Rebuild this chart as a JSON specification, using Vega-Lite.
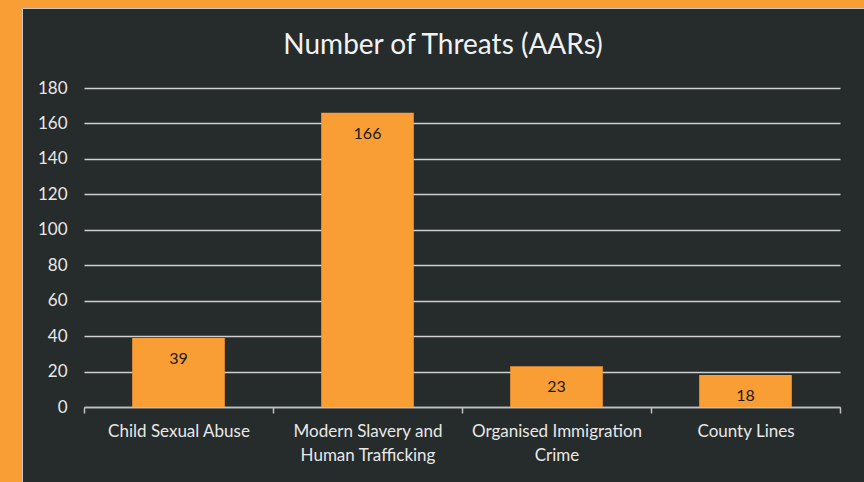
{
  "$schema": "https://vega.github.io/schema/vega-lite/v6.json",
  "width": 842,
  "height": 474,
  "autosize": {"type": "none"},
  "padding": {"left": 22, "top": 8, "right": 0, "bottom": 0},
  "background": "#f99d35",
  "title": {
    "text": "Number of Threats (AARs)",
    "color": "#f2f2f2",
    "fontSize": 28,
    "font": "Lato",
    "fontWeight": "normal",
    "offset": -52,
    "anchor": "middle",
    "frame": "group"
  },
  "config": {
    "view": {"fill": "#262b2b", "stroke": "#c8c8c8", "strokeWidth": 1}
  },
  "data": {
    "values": [
      {"threat": "Child Sexual Abuse", "count": 39},
      {"threat": "Modern Slavery and Human Trafficking", "count": 166},
      {"threat": "Organised Immigration Crime", "count": 23},
      {"threat": "County Lines", "count": 18}
    ]
  },
  "encoding": {
    "x": {
      "field": "threat",
      "type": "nominal",
      "sort": null,
      "scale": {"range": [62, 818], "paddingInner": 0, "paddingOuter": 0},
      "axis": {
        "title": null,
        "offset": -75,
        "grid": false,
        "domainColor": "#bfbfbf",
        "domainWidth": 1.5,
        "tickColor": "#bfbfbf",
        "tickWidth": 1.5,
        "tickSize": 6,
        "tickBand": "extent",
        "labelAngle": 0,
        "labelPadding": 10,
        "labelColor": "#e8e8e8",
        "labelFont": "Lato",
        "labelFontSize": 17,
        "labelLineHeight": 24,
        "labelLimit": 300,
        "labelOverlap": false,
        "labelBaseline": "top",
        "labelExpr": "datum.label == 'Modern Slavery and Human Trafficking' ? ['Modern Slavery and', 'Human Trafficking'] : datum.label == 'Organised Immigration Crime' ? ['Organised Immigration', 'Crime'] : datum.label"
      }
    },
    "y": {
      "field": "count",
      "type": "quantitative",
      "scale": {"domain": [0, 180], "range": [399, 80], "nice": false},
      "axis": {
        "title": null,
        "offset": -62,
        "domain": false,
        "ticks": false,
        "labelPadding": 17,
        "values": [0, 20, 40, 60, 80, 100, 120, 140, 160, 180],
        "grid": true,
        "gridColor": "#d0d0d0",
        "gridWidth": 1.5,
        "labelColor": "#e8e8e8",
        "labelFont": "Lato",
        "labelFontSize": 17
      }
    }
  },
  "layer": [
    {"mark": {"type": "bar", "color": "#f99d35", "width": {"band": 0.49}}},
    {
      "mark": {"type": "text", "baseline": "middle", "dy": 21, "color": "#1a1a1a", "fontSize": 16, "font": "Lato"},
      "encoding": {"text": {"field": "count", "type": "quantitative"}}
    }
  ]
}
